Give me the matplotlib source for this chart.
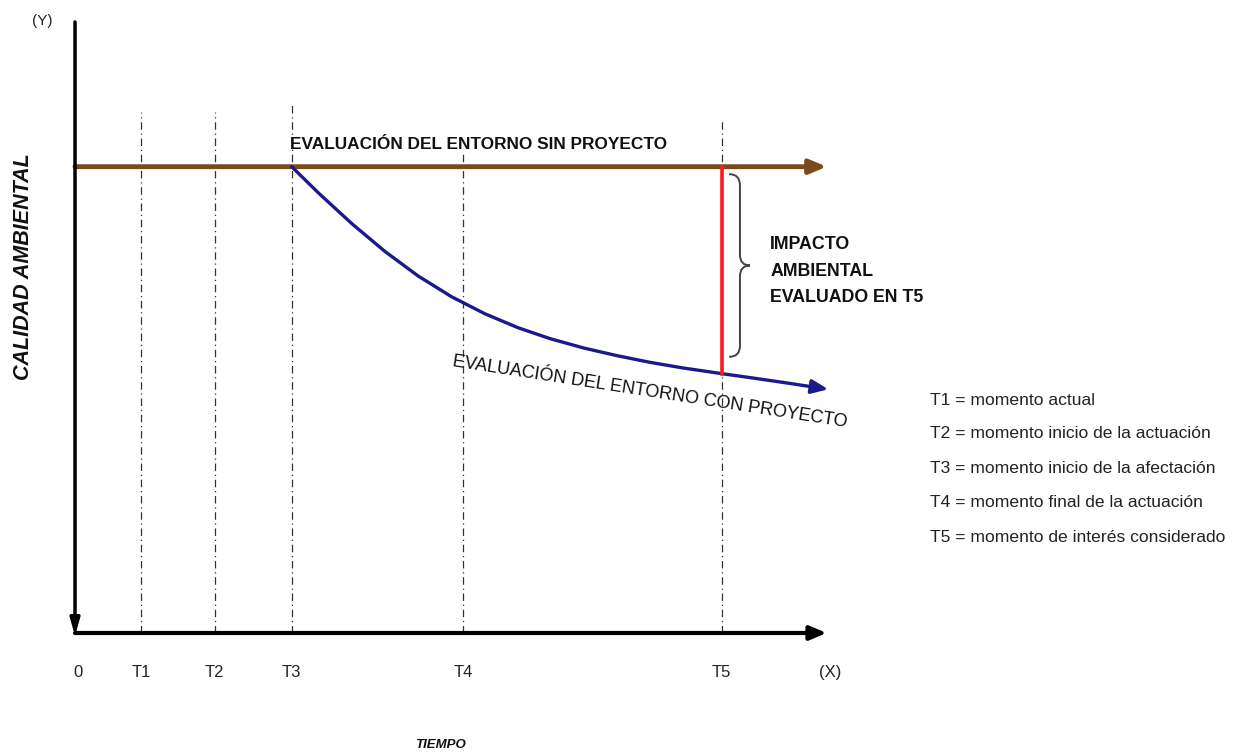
import matplotlib
matplotlib.use("Agg")
import matplotlib.pyplot as plt
from matplotlib.path import Path
from matplotlib.patches import PathPatch

# ---- data (arbitrary time / quality units) ----
tick_names = ["0", "T1", "T2", "T3", "T4", "T5"]
tick_times = [0.0, 0.85, 1.80, 2.796, 5.006, 8.345]
x_end = 9.70
y_top = 10.0
quality_without = 7.632
vline_tops = [8.53, 8.53, 8.66, 7.87, 8.43]   # for T1..T5

curve_t = [2.796, 3.139, 3.570, 4.000, 4.430, 4.861, 5.290, 5.720, 6.129,
           6.559, 6.990, 7.419, 7.849, 8.345, 8.710, 9.139, 9.720]
curve_q = [7.632, 7.205, 6.702, 6.244, 5.841, 5.502, 5.224, 4.995, 4.818,
           4.666, 4.540, 4.430, 4.337, 4.245, 4.180, 4.101, 3.989]

legend_lines = [
    "T1 = momento actual",
    "T2 = momento inicio de la actuación",
    "T3 = momento inicio de la afectación",
    "T4 = momento final de la actuación",
    "T5 = momento de interés considerado",
]

FONT = ["Liberation Sans", "DejaVu Sans"]
BROWN = "#7a4a1a"
BLUE = "#1a1a8a"
RED = "#ff1a1a"
HEAD = "-|>,head_length=1.0,head_width=0.42"

fig = plt.figure(figsize=(12.37, 7.53), dpi=100)
ax = fig.add_axes([0, 0, 1, 1])
ax.set_xlim(-0.968, 14.994)
ax.set_ylim(-1.964, 10.36)
ax.axis("off")

# dash-dot vertical guides
for t, top in zip(tick_times[1:], vline_tops):
    ax.plot([t, t], [0, top], color="#333333", lw=0.9, ls=(0, (6, 3, 1, 3)), zorder=1)

# y axis (arrow pointing down)
ax.annotate("", xy=(0, -0.05), xytext=(0, y_top),
            arrowprops=dict(arrowstyle="-|>,head_length=1.0,head_width=0.28",
                            color="black", lw=2.5, shrinkA=0, shrinkB=0), zorder=4)
# x axis
ax.annotate("", xy=(x_end, 0), xytext=(0, 0),
            arrowprops=dict(arrowstyle=HEAD, color="black", lw=3,
                            shrinkA=0, shrinkB=0), zorder=4)

# without-project line
ax.annotate("", xy=(x_end, quality_without), xytext=(0, quality_without),
            arrowprops=dict(arrowstyle=HEAD, color=BROWN, lw=3.5,
                            shrinkA=0, shrinkB=0), zorder=3)

# with-project curve
ax.plot(curve_t[:-1], curve_q[:-1], color=BLUE, lw=2.4, zorder=3,
        solid_capstyle="round", solid_joinstyle="round")
ax.annotate("", xy=(curve_t[-1], curve_q[-1]), xytext=(curve_t[-2], curve_q[-2]),
            arrowprops=dict(arrowstyle=HEAD, color=BLUE, lw=2.4,
                            shrinkA=0, shrinkB=0), zorder=3)

# impact red line at T5
t5 = tick_times[5]
q5 = curve_q[curve_t.index(t5)]
ax.plot([t5, t5], [q5, quality_without], color=RED, lw=2.6, zorder=3.5)

# brace
bx0, bx1, bx2 = 8.44, 8.58, 8.71
btop, bbot = 7.51, 4.52
bmid = (btop + bbot) / 2
r = 0.18
verts = [
    (bx0, btop), (bx1, btop), (bx1, btop - r),
    (bx1, bmid + r),
    (bx1, bmid), (bx2, bmid), (bx2, bmid),
    (bx1, bmid), (bx1, bmid - r),
    (bx1, bbot + r),
    (bx1, bbot), (bx0, bbot), (bx0, bbot),
]
codes = [Path.MOVETO, Path.CURVE3, Path.CURVE3, Path.LINETO,
         Path.CURVE3, Path.CURVE3, Path.MOVETO,
         Path.CURVE3, Path.CURVE3, Path.LINETO,
         Path.CURVE3, Path.CURVE3, Path.LINETO]
ax.add_patch(PathPatch(Path(verts, codes), fill=False, ec="#444444", lw=1.4))

# texts
ax.text(tick_times[3] - 0.02, 8.0, "EVALUACIÓN DEL ENTORNO SIN PROYECTO", family=FONT,
        fontweight="bold", fontsize=12.4, ha="left", va="center", color="#111111")
ax.text(7.42, 3.94, "EVALUACIÓN DEL ENTORNO CON PROYECTO", family=FONT,
        fontsize=13, ha="center", va="center", rotation=-8.8,
        rotation_mode="anchor", color="#111111")
ax.text(8.97, 5.92, "IMPACTO\nAMBIENTAL\nEVALUADO EN T5", family=FONT,
        fontweight="bold", fontsize=12.8, ha="left", va="center",
        linespacing=1.72, color="#111111")

for name, t in zip(tick_names, tick_times):
    ax.text(t + (0.04 if name == "0" else 0), -0.64, name, family=FONT,
            fontsize=12, ha="center", va="center", color="#222222")
ax.text(x_end + 0.05, -0.64, "(X)", family=FONT, fontsize=12,
        ha="center", va="center", color="#222222")
ax.text(-0.42, 10.02, "(Y)", family=FONT, fontsize=11, ha="center",
        va="center", color="#222222")

ax.text(-0.66, 5.99, "CALIDAD AMBIENTAL", family=FONT,
        fontweight="bold", fontstyle="italic", fontsize=15.5, rotation=90,
        ha="center", va="center", color="#111111")
ax.text(4.71, -1.83, "TIEMPO", family=FONT, fontweight="bold",
        fontstyle="italic", fontsize=9.5, ha="center", va="center", color="#111111")

leg_y = [3.80, 3.27, 2.70, 2.13, 1.57]
for s, y in zip(legend_lines, leg_y):
    ax.text(11.03, y, s, family=FONT, fontsize=12.6, ha="left", va="center",
            color="#222222")

fig.savefig("out.png", dpi=100)
